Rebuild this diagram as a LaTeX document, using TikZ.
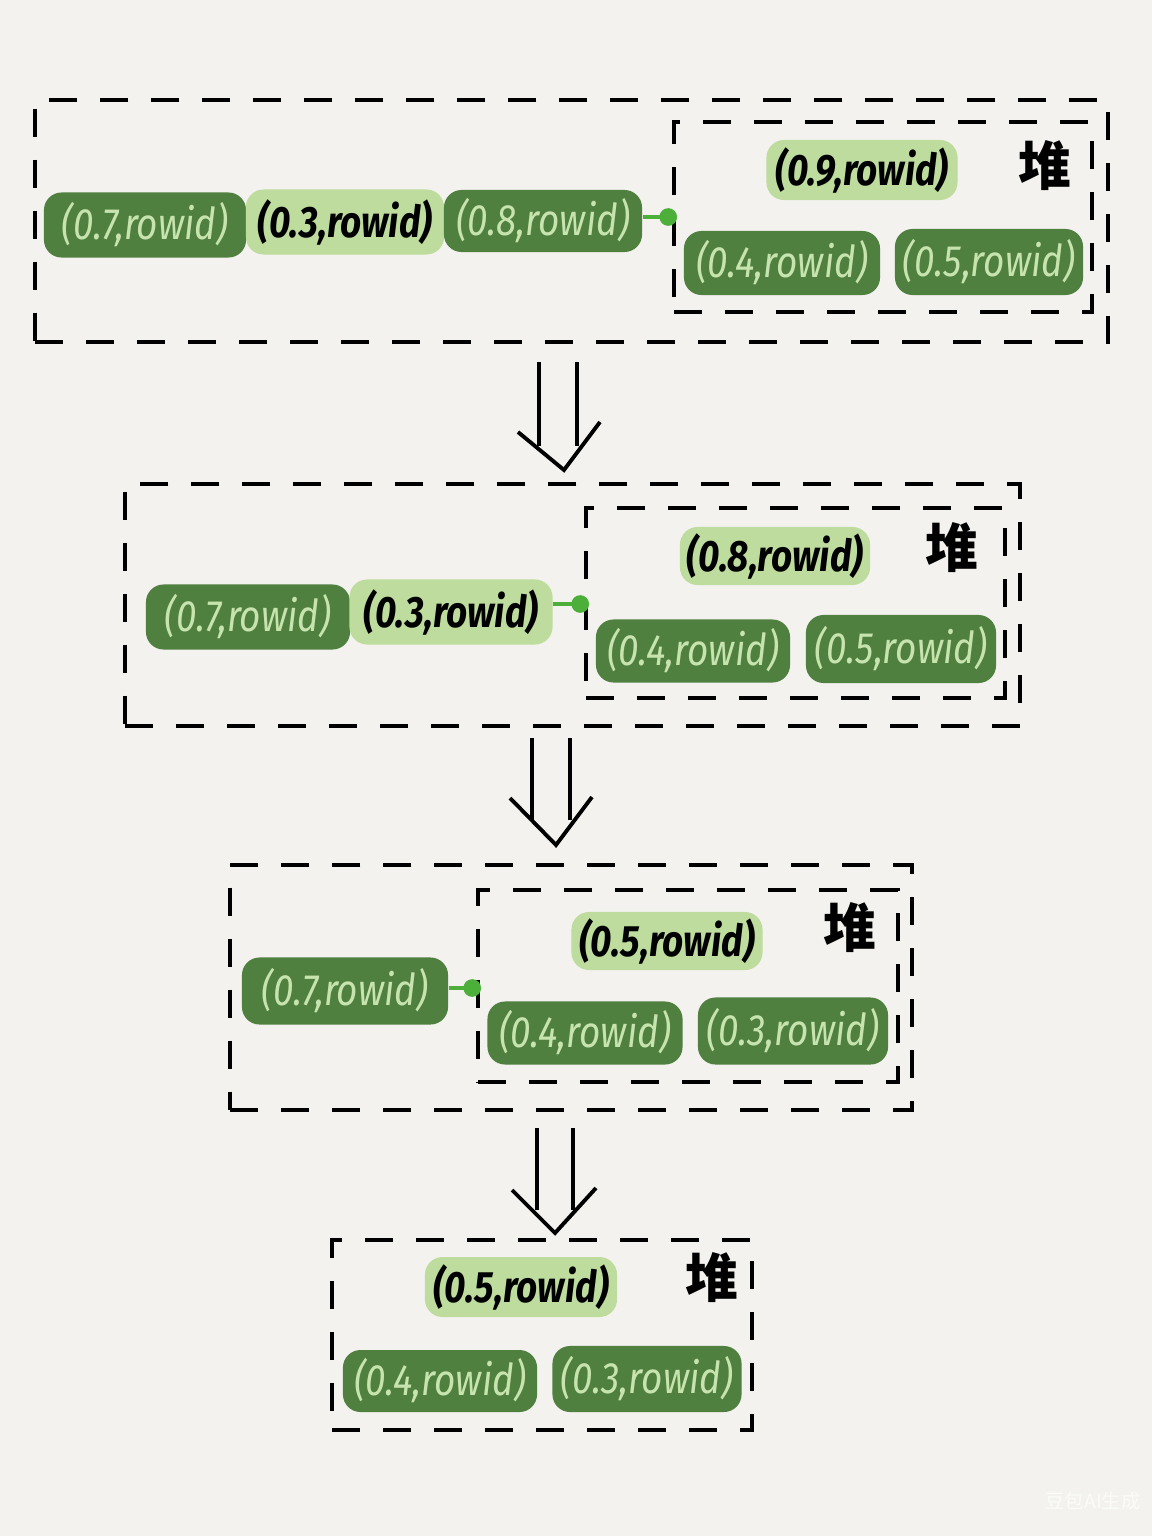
\documentclass[tikz,border=0pt]{standalone}
\usepackage{graphicx}
\usepackage{fontspec}
\setmainfont{Fira Sans}
\newfontfamily\cjkfont{Noto Sans CJK SC}
\usetikzlibrary{arrows.meta,fit}
\definecolor{bgc}{HTML}{F3F2EE}
\definecolor{darkg}{HTML}{4F8040}
\definecolor{lightg}{HTML}{BDDC9E}
\definecolor{palet}{HTML}{C8E4AE}
\definecolor{connc}{HTML}{4CAF3A}
\definecolor{wmark}{HTML}{FBFBF9}
\newcommand\sx[1]{\scalebox{0.84}[1]{#1}}
\tikzset{
  darkpill/.style={fill=darkg, text=palet, rounded corners=5pt, minimum width=2.0cm, minimum height=0.64cm, inner sep=0pt, font=\fontsize{12.5}{14}\selectfont\itshape},
  lightpill/.style={fill=lightg, text=black, rounded corners=5pt, minimum width=1.95cm, minimum height=0.6cm, inner sep=0pt, font=\fontsize{12.5}{14}\selectfont\bfseries\itshape},
  dbox/.style={draw=black, line width=1pt, dash pattern=on 8pt off 6.5pt, inner sep=0pt},
  heaplabel/.style={font=\cjkfont\bfseries\fontsize{15}{16}\selectfont, text=black},
  conn/.style={draw=connc, line width=1.4pt, -{Circle[length=5pt]}},
  shaft/.style={draw=black, line width=1.1pt},
  wm/.style={text=wmark, font=\cjkfont\fontsize{5.5}{6}\selectfont}
}
\begin{document}
\begin{tikzpicture}[x=0.01cm,y=-0.01cm]
\fill[bgc] (0,0) rectangle (1152,1536);
\useasboundingbox (0,0) rectangle (1152,1536);

% ---------- Panel 1 ----------
\node[dbox, fit={(35,100) (1108,342)}] (o1) {};
\node[dbox, fit={(674,122) (1092,312)}] (h1) {};
\node[darkpill, minimum width=2.02cm, minimum height=0.65cm] (p11) at (145,225) {\sx{(0.7,rowid)}};
\node[lightpill, minimum width=1.98cm, minimum height=0.65cm] (p12) at (345,222) {\sx{(0.3,rowid)}};
\node[darkpill, minimum width=1.98cm, minimum height=0.62cm] (p13) at (543,221) {\sx{(0.8,rowid)}};
\node[lightpill, minimum width=1.91cm] (t1) at (862,170) {\sx{(0.9,rowid)}};
\node[heaplabel] (k1) at (1045,166) {堆};
\node[darkpill, minimum width=1.96cm] (a1) at (782,263) {\sx{(0.4,rowid)}};
\node[darkpill, minimum width=1.88cm, minimum height=0.66cm] (b1) at (989,262) {\sx{(0.5,rowid)}};
\coordinate (e1) at (677,217);
\draw[conn] (p13.east |- e1) -- (e1);

% ---------- Arrow 1 ----------
\coordinate (s1a) at (539,362); \coordinate (s1b) at (577,362);
\draw[shaft] (s1a) -- (539,446);
\draw[shaft] (s1b) -- (577,446);
\draw[shaft] (518,432) -- (564,470) -- (600,422);

% ---------- Panel 2 ----------
\node[dbox, fit={(125,484) (1020,726)}] (o2) {};
\node[dbox, fit={(586,508) (1005,698)}] (h2) {};
\node[darkpill, minimum width=2.04cm, minimum height=0.65cm] (p21) at (248,617) {\sx{(0.7,rowid)}};
\node[lightpill, minimum width=2.03cm, minimum height=0.65cm] (p22) at (451,612) {\sx{(0.3,rowid)}};
\node[lightpill, minimum width=1.9cm, minimum height=0.58cm] (t2) at (775,556) {\sx{(0.8,rowid)}};
\node[heaplabel] (k2) at (952,548) {堆};
\node[darkpill, minimum width=1.94cm, minimum height=0.63cm] (a2) at (693,651) {\sx{(0.4,rowid)}};
\node[darkpill, minimum width=1.9cm, minimum height=0.68cm] (b2) at (901,649) {\sx{(0.5,rowid)}};
\coordinate (e2) at (589,604);
\draw[conn] (p22.east |- e2) -- (e2);

% ---------- Arrow 2 ----------
\coordinate (s2a) at (532,738); \coordinate (s2b) at (570,738);
\draw[shaft] (s2a) -- (532,820);
\draw[shaft] (s2b) -- (570,820);
\draw[shaft] (510,798) -- (556,845) -- (592,797);

% ---------- Panel 3 ----------
\node[dbox, fit={(230,865) (912,1110)}] (o3) {};
\node[dbox, fit={(478,890) (898,1082)}] (h3) {};
\node[darkpill, minimum width=2.06cm, minimum height=0.67cm] (p31) at (345,991) {\sx{(0.7,rowid)}};
\node[lightpill, minimum width=1.91cm, minimum height=0.58cm] (t3) at (667,941) {\sx{(0.5,rowid)}};
\node[heaplabel] (k3) at (850,928) {堆};
\node[darkpill, minimum width=1.95cm, minimum height=0.63cm] (a3) at (585,1033) {\sx{(0.4,rowid)}};
\node[darkpill, minimum width=1.9cm, minimum height=0.67cm] (b3) at (793,1031) {\sx{(0.3,rowid)}};
\coordinate (e3) at (481,988);
\draw[conn] (p31.east |- e3) -- (e3);

% ---------- Arrow 3 ----------
\coordinate (s3a) at (537,1128); \coordinate (s3b) at (573,1128);
\draw[shaft] (s3a) -- (537,1210);
\draw[shaft] (s3b) -- (573,1210);
\draw[shaft] (512,1190) -- (555,1233) -- (596,1188);

% ---------- Panel 4 ----------
\node[dbox, fit={(332,1240) (752,1430)}] (h4) {};
\node[lightpill, minimum width=1.92cm, minimum height=0.6cm] (t4) at (521,1287) {\sx{(0.5,rowid)}};
\node[heaplabel] (k4) at (712,1278) {堆};
\node[darkpill, minimum width=1.94cm, minimum height=0.62cm] (a4) at (440,1381) {\sx{(0.4,rowid)}};
\node[darkpill, minimum width=1.89cm, minimum height=0.66cm] (b4) at (647,1379) {\sx{(0.3,rowid)}};

% watermark
\node[wm] (w) at (1093,1501) {豆包AI生成};
\end{tikzpicture}
\end{document}
